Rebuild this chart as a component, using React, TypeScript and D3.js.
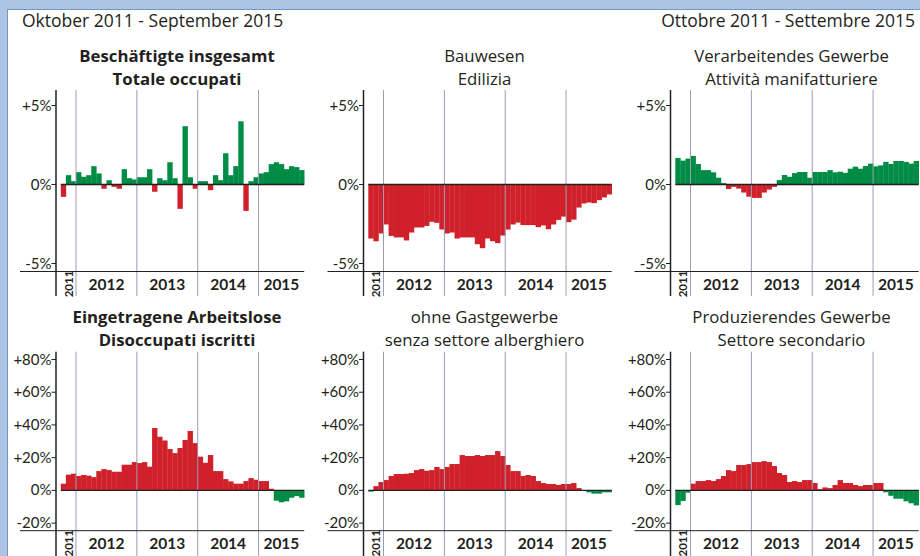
import * as d3 from "d3";

// Monate Oktober 2011 - September 2015
const months = d3.timeMonth.range(new Date(2011, 9, 1), new Date(2015, 9, 1));
const years = [2012, 2013, 2014, 2015];

// Veränderung gegenüber Vorjahresmonat in %
const beschaeftigte = [
  -0.78, 0.59, 0.21, 0.78, 0.49, 0.59, 1.16, 0.7, -0.27, 0.27, -0.15, -0.27,
  0.97, 0.4, 0.32, 0.46, 0.46, 0.97, -0.46, 0.4, 0.27, 1.41, 0.4, -1.54,
  3.69, 0.46, -0.27, 0.21, 0.21, -0.36, 0.59, 0.27, 1.98, 0.59, 1.16, 4.0,
  -1.67, 0.21, 0.46, 0.7, 0.78, 1.29, 1.41, 1.29, 0.97, 1.16, 1.1, 0.91,
];
const bauwesen = [
  -3.42, -3.59, -3.1, -2.53, -3.25, -3.35, -3.35, -3.54, -3.04, -2.72, -2.72, -2.62,
  -2.36, -2.43, -2.85, -3.1, -3.04, -3.42, -3.35, -3.35, -3.35, -3.78, -4.03, -3.42,
  -3.59, -3.71, -3.23, -2.85, -2.53, -2.41, -2.57, -2.57, -2.57, -2.7, -2.59, -2.83,
  -2.53, -2.24, -2.03, -2.38, -2.22, -1.46, -1.2, -1.14, -1.18, -0.99, -0.82, -0.63,
];
const verarbeitendes = [
  1.68, 1.51, 1.64, 1.81, 1.3, 0.91, 0.91, 0.77, 0.43, 0.09, -0.28, -0.15,
  -0.26, -0.51, -0.77, -0.85, -0.85, -0.51, -0.32, -0.15, 0.28, 0.6, 0.49, 0.72,
  0.79, 0.79, 0.43, 0.79, 0.79, 0.79, 0.91, 0.77, 0.81, 0.74, 1.0, 1.13,
  1.0, 1.17, 1.32, 1.15, 1.21, 1.43, 1.3, 1.49, 1.49, 1.43, 1.32, 1.49,
];
const arbeitslose = [
  4.1, 9.6, 10.2, 8.8, 9.4, 9.0, 8.1, 11.8, 13.0, 12.4, 11.4, 11.4,
  15.7, 15.7, 17.3, 16.7, 17.3, 14.5, 38.1, 32.8, 30.5, 25.3, 22.8, 25.9,
  30.8, 36.3, 28.9, 20.6, 16.9, 21.6, 11.8, 11.8, 6.9, 5.5, 4.1, 4.1,
  5.7, 7.5, 6.5, 5.7, 5.7, 1.0, -6.3, -7.3, -6.7, -4.5, -3.5, -4.5,
];
const ohneGastgewerbe = [
  -0.8, 2.6, 5.1, 6.3, 8.8, 10.0, 10.0, 10.2, 10.6, 12.4, 13.0, 12.0,
  12.4, 14.3, 13.0, 14.3, 16.1, 16.1, 21.6, 21.0, 21.0, 21.6, 21.0, 21.6,
  21.6, 24.0, 21.0, 15.5, 11.8, 11.8, 8.8, 9.4, 8.8, 5.7, 4.5, 3.9,
  3.9, 3.3, 3.9, 3.9, 4.5, 1.4, 0.1, -1.2, -2.0, -2.0, -1.2, -1.2,
];
const produzierendes = [
  -9.0, -6.5, -1.4, 4.1, 5.7, 5.7, 6.3, 5.7, 6.9, 8.8, 12.4, 11.8,
  15.5, 15.5, 16.1, 17.3, 17.3, 17.9, 17.3, 14.9, 10.6, 9.4, 5.1, 5.7,
  5.1, 6.3, 6.3, 4.5, 0.8, 1.8, 1.4, 3.3, 6.3, 4.5, 4.5, 3.3,
  2.6, 3.3, 3.3, 4.5, 4.5, -1.2, -3.3, -5.1, -5.1, -6.7, -7.9, -9.2,
];

const ticksTop = [5, 0, -5];
const ticksBottom = [80, 60, 40, 20, 0, -20];

const RED = "#d0212b";
const GREEN = "#008c45";

type Panel = {
  title: string[];
  bold: boolean;
  values: number[];
  row: number;
  col: number;
  upGood: boolean;
};

const panels: Panel[] = [
  { title: ["Beschäftigte insgesamt", "Totale occupati"], bold: true, values: beschaeftigte, row: 0, col: 0, upGood: true },
  { title: ["Bauwesen", "Edilizia"], bold: false, values: bauwesen, row: 0, col: 1, upGood: true },
  { title: ["Verarbeitendes Gewerbe", "Attività manifatturiere"], bold: false, values: verarbeitendes, row: 0, col: 2, upGood: true },
  { title: ["Eingetragene Arbeitslose", "Disoccupati iscritti"], bold: true, values: arbeitslose, row: 1, col: 0, upGood: false },
  { title: ["ohne Gastgewerbe", "senza settore alberghiero"], bold: false, values: ohneGastgewerbe, row: 1, col: 1, upGood: false },
  { title: ["Produzierendes Gewerbe", "Settore secondario"], bold: false, values: produzierendes, row: 1, col: 2, upGood: false },
];

const axisX = [56, 363.5, 670.5];
const rows = [
  { domain: [-5, 5], range: [263.5, 105.5], top: 90, bottom: 271.5, end: 296, titleY: 61.5, ticks: ticksTop },
  { domain: [-20, 80], range: [523.1, 359.5], top: 351.7, bottom: 530.7, end: 556, titleY: 322.5, ticks: ticksBottom },
];
const fmt = (v: number) => (v > 0 ? "+" : "") + v + "%";

const FONT = "Lato, 'Open Sans', sans-serif";
const TITLE_FONT = "'Open Sans', sans-serif";

function ChartPanel({ p }: { p: Panel }) {
  const r = rows[p.row];
  const ax = axisX[p.col];
  const x = d3.scaleBand<Date>().domain(months).range([ax + 4.8, ax + 248.2]).padding(0);
  const y = d3.scaleLinear().domain(r.domain).range(r.range);
  const y0 = y(0);
  const bw = x.bandwidth();
  const yearX = years.map((yr) => x(new Date(yr, 0, 1)) as number);
  const plotEnd = ax + 248.2;
  return (
    <g>
      {p.title.map((t, i) => (
        <text key={i} x={ax + 121} y={r.titleY + i * 23} textAnchor="middle" fontSize={16.8}
          fontFamily={TITLE_FONT} fontWeight={p.bold ? 700 : 400} fill="#231f20">{t}</text>
      ))}
      {p.values.map((v, i) => (
        <rect key={i} x={x(months[i])} width={bw + 0.3}
          y={Math.min(y(v), y0)} height={Math.abs(y(v) - y0)}
          fill={(v >= 0) === p.upGood ? GREEN : RED} />
      ))}
      {yearX.map((yx, i) => (
        <line key={i} x1={yx} x2={yx} y1={r.top} y2={r.end} stroke="#9a9cb2" strokeWidth={1} />
      ))}
      <line x1={ax + 4.8} x2={plotEnd} y1={y0} y2={y0} stroke="#231f20" strokeWidth={1.3} />
      <line x1={ax - 36} x2={plotEnd} y1={r.bottom} y2={r.bottom} stroke="#231f20" strokeWidth={1} />
      <line x1={ax} x2={ax} y1={r.top} y2={r.end} stroke="#231f20" strokeWidth={1.5} />
      {r.ticks.map((t) => (
        <g key={t}>
          <line x1={ax - 4.5} x2={ax} y1={y(t)} y2={y(t)} stroke="#231f20" strokeWidth={1} />
          <text x={ax - 4.5} y={y(t) + 5} textAnchor="end" fontSize={15} fill="#231f20">{fmt(t)}</text>
        </g>
      ))}
      {years.map((yr, i) => {
        const a = yearX[i];
        const b = i < years.length - 1 ? yearX[i + 1] : plotEnd;
        return (
          <text key={yr} x={(a + b) / 2} y={r.bottom + 18.5} textAnchor="middle" fontSize={15.5} fontWeight={700} fill="#231f20">{yr}</text>
        );
      })}
      <text transform={`translate(${ax + 16.5},${r.bottom + 12.5}) rotate(-90)`} textAnchor="middle"
        fontSize={11.5} fontWeight={700} fill="#231f20">2011</text>
    </g>
  );
}

export default function App() {
  return (
    <svg width={920} height={556} style={{ position: "absolute", left: 0, top: 0, background: "#fff" }} fontFamily={FONT}>
      <rect x={0} y={0} width={920} height={556} fill="#fff" />
      <rect x={0} y={0} width={920} height={9} fill="#aec4e4" />
      <rect x={0} y={0} width={7} height={556} fill="#aec4e4" />
      <line x1={7} x2={920} y1={9.5} y2={9.5} stroke="#6f98cf" strokeWidth={1} />
      <line x1={7.5} x2={7.5} y1={9} y2={556} stroke="#6f98cf" strokeWidth={1} />
      <text x={22} y={27} fontSize={17.5} fontFamily={TITLE_FONT} fill="#231f20">Oktober 2011 - September 2015</text>
      <text x={915} y={27} fontSize={17.5} fontFamily={TITLE_FONT} textAnchor="end" fill="#231f20">Ottobre 2011 - Settembre 2015</text>
      {panels.map((p, i) => (
        <ChartPanel key={i} p={p} />
      ))}
    </svg>
  );
}
